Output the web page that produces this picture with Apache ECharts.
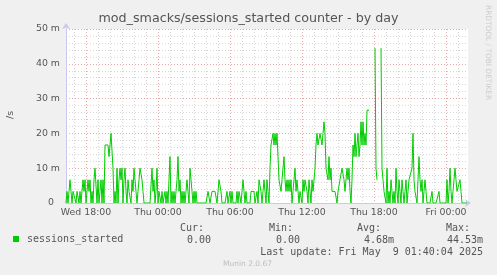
<!DOCTYPE html>
<html><head><meta charset="utf-8">
<script src="https://cdn.jsdelivr.net/npm/echarts@6/dist/echarts.min.js"></script>
<style>html,body{margin:0;padding:0;background:#f0f0f0}#c{width:497px;height:275px}</style>
</head><body><div id="c"></div>
<script>
// time axis: Wed 16:20 (minutes since Wed 00:00), 5-minute steps
const startMinute = 980;
const stepMinutes = 5;
const dayNames = ['Wed', 'Thu', 'Fri'];
const yTickValues = [0, 10, 20, 30, 40, 50];
// sessions_started rate, in milli /s, one value per 5 minutes
const sessionsStarted = [
  0, 3.33, 0, 3.33, 6.67, 3.33, 0, 3.33, 3.33, 3.33,
  0, 3.33, 3.33, 0, 3.33, 0, 3.33, 6.67, 3.33, 6.67,
  0, 3.33, 6.67, 3.33, 6.67, 0, 3.33, 0, 6.67, 10,
  10, 0, 6.67, 0, 3.33, 6.67, 0, 6.67, 0, 16.67,
  16.67, 16.67, 16.67, 13.33, 16.67, 20, 20, 10, 0, 3.33,
  0, 10, 0, 6.67, 10, 6.67, 10, 0, 6.67, 10,
  3.33, 0, 6.67, 3.33, 3.33, 0, 6.67, 3.33, 10, 6.67,
  3.33, 0, 3.33, 6.67, 10, 10, 6.67, 3.33, 0, 0,
  0, 0, 0, 0, 0, 0, 10, 3.33, 6.67, 0,
  3.33, 10, 0, 3.33, 3.33, 0, 3.33, 0, 0, 3.33,
  0, 3.33, 0, 6.67, 13.33, 0, 3.33, 0, 3.33, 0,
  3.33, 6.67, 13.33, 3.33, 6.67, 0, 3.33, 0, 3.33, 0,
  3.33, 6.67, 3.33, 0, 10, 6.67, 3.33, 0, 3.33, 0,
  3.33, 0, 0, 0, 0, 0, 0, 0, 0, 0,
  0, 0, 3.33, 3.33, 0, 0, 3.33, 3.33, 3.33, 3.33,
  3.33, 0, 3.33, 6.67, 6.67, 3.33, 0, 0, 0, 0,
  0, 3.33, 0, 0, 3.33, 0, 3.33, 0, 0, 0,
  0, 3.33, 0, 3.33, 3.33, 0, 3.33, 6.67, 3.33, 0,
  3.33, 0, 0, 0, 0, 3.33, 3.33, 3.33, 3.33, 0,
  0, 3.33, 0, 6.67, 6.67, 3.33, 0, 3.33, 6.67, 3.33,
  0, 6.67, 3.33, 0, 10, 16.67, 16.67, 20, 16.67, 20,
  16.67, 20, 13.33, 6.67, 6.67, 3.33, 6.67, 10, 13.33, 6.67,
  3.33, 6.67, 3.33, 6.67, 3.33, 6.67, 0, 3.33, 6.67, 10,
  3.33, 6.67, 3.33, 0, 3.33, 3.33, 0, 6.67, 3.33, 6.67,
  6.67, 3.33, 0, 6.67, 3.33, 0, 6.67, 3.33, 3.33, 10,
  16.67, 20, 16.67, 16.67, 20, 20, 16.67, 20, 23.33, 20,
  10, 10, 6.67, 13.33, 6.67, 10, 3.33, 3.33, 3.33, 3.33,
  3.33, 0, 3.33, 3.33, 6.67, 6.67, 10, 10, 6.67, 3.33,
  3.33, 10, 6.67, 10, 3.33, 0, 6.67, 16.67, 13.33, 20,
  13.33, 16.67, 20, 13.33, 16.67, 23.33, 16.67, 23.33, 16.67, 20,
  16.67, 26.67, 26.67, 26.67, null, null, null, null, null, 44.53,
  10, 6.67, null, null, null, 44.53, 10, 6.67, 3.33, 3.33,
  0, 10, 0, 3.33, 0, 6.67, 3.33, 0, 3.33, 0,
  10, 3.33, 0, 6.67, 3.33, 0, 6.67, 3.33, 0, 3.33,
  6.67, 0, 3.33, 6.67, 6.67, 6.67, 10, 20, 6.67, 3.33,
  3.33, 0, 6.67, 13.33, 6.67, 3.33, 6.67, 0, 3.33, 6.67,
  3.33, 0, 0, 0, 0, 0, 3.33, 0, 0, 0,
  0, 0, 0, 3.33, 0, 0, 0, 0, 0, 0,
  0, 6.67, 0, 3.33, 10, 3.33, 0, 3.33, 6.67, 10,
  6.67, 3.33, 3.33, 3.33, 6.67, 3.33, 0, 0, 0, 0,
  0, 0
];
const legendName = 'sessions_started';
const statHeaders = ['Cur:', 'Min:', 'Avg:', 'Max:'];
const statValues = ['0.00', '0.00', '4.68m', '44.53m'];
const lastUpdate = 'Last update: Fri May  9 01:40:04 2025';
const titleText = 'mod_smacks/sessions_started counter - by day';

const categories = [];
for (let i = 0; i <= sessionsStarted.length; i++) categories.push(startMinute + i * stepMinutes);
const minuteAt = (idx) => startMinute + idx * stepMinutes;
const isHour = (idx) => minuteAt(idx) % 60 === 0;
const isMajor = (idx) => minuteAt(idx) % 360 === 0;
const fmtTime = (m) => {
  const d = Math.floor(m / 1440), r = m % 1440;
  const hh = String(Math.floor(r / 60)).padStart(2, '0'), mm = String(r % 60).padStart(2, '0');
  return dayNames[d] + ' ' + hh + ':' + mm;
};

const SANS = 'DejaVu Sans';
const MONO = 'DejaVu Sans Mono';
const TXT = '#555555';
const axisCol = '#c8c8f0';
const minorCol = '#d6d6d6';
const majorCol = '#e6a8a8';

const chart = echarts.init(document.getElementById('c'), null, {renderer: 'canvas'});
const statX = [204, 293, 381, 470];
const valX = [211, 300, 394, 483];
const graphics = [];
statHeaders.forEach((t, k) => graphics.push({type: 'text', x: statX[k], y: 228,
  style: {text: t, fill: TXT, font: '10px "' + MONO + '"', align: 'right', verticalAlign: 'middle'}}));
statValues.forEach((t, k) => graphics.push({type: 'text', x: valX[k], y: 240,
  style: {text: t, fill: TXT, font: '10px "' + MONO + '"', align: 'right', verticalAlign: 'middle'}}));
graphics.push({type: 'text', x: 483, y: 252,
  style: {text: lastUpdate, fill: TXT, font: '10px "' + MONO + '"', align: 'right', verticalAlign: 'middle'}});
graphics.push({type: 'text', x: 247.5, y: 264,
  style: {text: 'Munin 2.0.67', fill: '#bdbdbd', font: '7.5px "' + SANS + '"', align: 'center', verticalAlign: 'middle'}});
graphics.push({type: 'text', x: 488, y: 5, rotation: -Math.PI / 2,
  style: {text: 'RRDTOOL / TOBI OETIKER', fill: '#cccccc', font: '7.4px "' + SANS + '"', align: 'left', verticalAlign: 'middle'}});
graphics.push({type: 'text', x: 11, y: 115, rotation: Math.PI / 2,
  style: {text: '/s', fill: TXT, font: '9.4px "' + SANS + '"', align: 'center', verticalAlign: 'middle'}});

chart.setOption({
  animation: false,
  backgroundColor: '#f0f0f0',
  title: {text: titleText, left: 'center', top: 12, padding: 0,
    textStyle: {fontFamily: SANS, fontSize: 12.7, fontWeight: 'normal', color: TXT}},
  legend: {left: 13, top: 234, padding: 0, itemWidth: 6, itemHeight: 6, icon: 'rect',
    data: [legendName],
    textStyle: {fontFamily: MONO, fontSize: 10, color: TXT, padding: [0, 0, 0, 3]}},
  grid: {left: 66, top: 29, width: 402, height: 174, show: true, backgroundColor: '#ffffff', borderWidth: 0},
  xAxis: [
    {type: 'category', position: 'bottom', data: categories, boundaryGap: false,
      axisLine: {show: false}, axisTick: {show: false}, axisLabel: {show: false},
      splitLine: {show: true, interval: (i) => isHour(i) && !isMajor(i), lineStyle: {color: minorCol, type: [1, 2], width: 1}}},
    {type: 'category', position: 'bottom', data: categories, boundaryGap: false,
      axisLine: {show: true, symbol: ['none', 'arrow'], symbolSize: [6, 6], symbolOffset: [0, 3], lineStyle: {color: axisCol, width: 1}},
      axisTick: {show: false},
      axisLabel: {show: true, interval: (i) => isMajor(i), formatter: (v) => fmtTime(Number(v)),
        fontFamily: SANS, fontSize: 9.4, color: TXT, margin: 5},
      splitLine: {show: true, interval: (i) => isMajor(i), lineStyle: {color: majorCol, type: [1, 2], width: 1}}}
  ],
  yAxis: [
    {type: 'value', position: 'left', min: 0, max: 50, interval: 2,
      axisLine: {show: false}, axisTick: {show: false}, axisLabel: {show: false},
      splitLine: {show: true, lineStyle: {color: minorCol, type: [1, 2], width: 1}}},
    {type: 'value', position: 'left', min: yTickValues[0], max: yTickValues[yTickValues.length - 1], interval: 10,
      axisLine: {show: true, symbol: ['none', 'arrow'], symbolSize: [6, 6], symbolOffset: [0, 6], lineStyle: {color: axisCol, width: 1}},
      axisTick: {show: false},
      axisLabel: {show: true, formatter: (v) => v === 0 ? '0  ' : v + ' m', fontFamily: SANS, fontSize: 9.4, color: TXT, margin: 6},
      splitLine: {show: true, lineStyle: {color: majorCol, type: [1, 2], width: 1}}}
  ],
  series: [{
    name: legendName, type: 'line', xAxisIndex: 1, yAxisIndex: 1,
    data: sessionsStarted, showSymbol: false, symbol: 'none', connectNulls: false,
    lineStyle: {color: '#00cc00', width: 1}, itemStyle: {color: '#00cc00'}
  }],
  graphic: graphics
});
</script></body></html>
